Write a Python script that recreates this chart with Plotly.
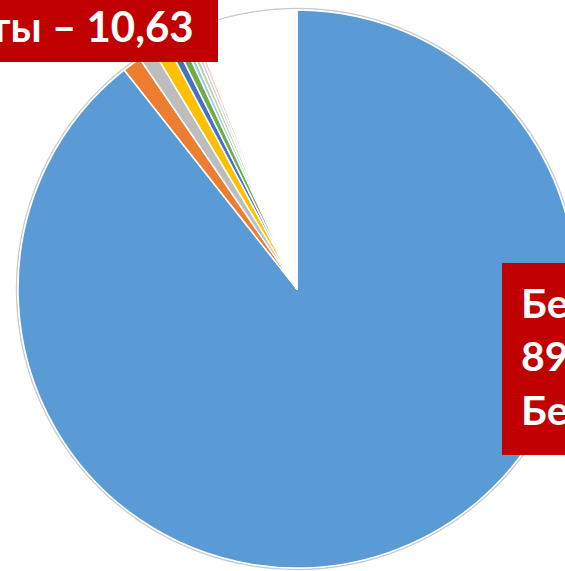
import plotly.graph_objects as go

# ---- data ----
labels = ["Бесплатно", "Платные 1", "Платные 2", "Платные 3", "Платные 4",
          "Платные 5", "Платные 6", "Платные 7", "Платные 8", "Платные 9", "Прочие"]
values = [89.37, 1.10, 0.90, 0.85, 0.45, 0.45, 0.25, 0.25, 0.20, 0.20, 5.98]
colors = ["#5B9BD5", "#ED7D31", "#BDBDBD", "#FFC000", "#4472C4", "#70AD47",
          "#9DC3E6", "#B5D7A0", "#D5C4E6", "#F8CBAD", "#FFFFFF"]
label_left = "ты – 10,63"
label_right = "Бе<br>89,37<br>Бе"

# ---- layout geometry (pixels) ----
W, H = 600, 571
cx, cy, r = 297, 289, 279
dom_x = [(cx - r) / W, (cx + r) / W]
dom_y = [(H - cy - r) / H, (H - cy + r) / H]

fig = go.Figure(go.Pie(
    labels=labels, values=values, sort=False, direction="clockwise", rotation=0,
    marker=dict(colors=colors, line=dict(color="white", width=1.5)),
    textinfo="none", hoverinfo="label+value", showlegend=False,
    domain=dict(x=dom_x, y=dom_y),
))

def px(x):
    return x / W

def py(y):
    return (H - y) / H

shapes = [
    # faint outline of the pie
    dict(type="circle", xref="paper", yref="paper", layer="below",
         x0=px(cx - r - 1.5), x1=px(cx + r + 1.5), y0=py(cy + r + 1.5), y1=py(cy - r - 1.5),
         line=dict(color="#C8CCD0", width=1.5), fillcolor="rgba(0,0,0,0)"),
    # red label boxes
    dict(type="rect", xref="paper", yref="paper", layer="above",
         x0=px(-5), x1=px(218), y0=py(62), y1=py(-5),
         fillcolor="#C00000", line=dict(width=0)),
    dict(type="rect", xref="paper", yref="paper", layer="above",
         x0=px(502), x1=px(W + 5), y0=py(455), y1=py(263),
         fillcolor="#C00000", line=dict(width=0)),
]

font = dict(family="Lato, Open Sans, sans-serif", size=42, color="white")
annotations = [
    dict(text="<b>" + label_left + "</b>", xref="paper", yref="paper",
         x=px(196), y=py(26), xanchor="right", yanchor="middle",
         showarrow=False, font=font),
    dict(text="<b>" + label_right + "</b>", xref="paper", yref="paper",
         x=px(519), y=py(356), xanchor="left", yanchor="middle", align="left",
         showarrow=False, font=dict(font, size=41)),
]

fig.update_layout(
    width=W, height=H, margin=dict(l=0, r=0, t=0, b=0),
    paper_bgcolor="white", plot_bgcolor="white",
    shapes=shapes, annotations=annotations,
)

fig.write_html(
    "out.html",
    config={"displayModeBar": False},
    post_script="document.body.style.margin='0';document.body.style.overflow='hidden';"
                "document.documentElement.style.overflow='hidden';",
)
